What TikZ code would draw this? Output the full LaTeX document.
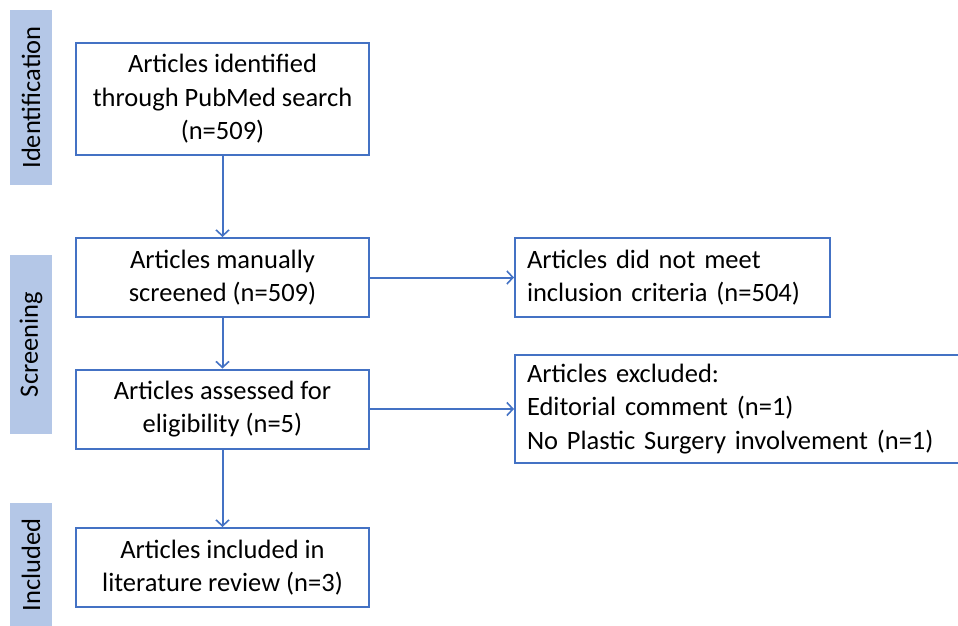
\documentclass[tikz,border=0pt]{standalone}
\usepackage{fontspec}
\setmainfont{Carlito}
\usetikzlibrary{arrows.meta}
\definecolor{boxblue}{HTML}{4472C4}
\definecolor{barblue}{HTML}{B4C7E7}
\begin{document}
\begin{tikzpicture}[x=1pt,y=-1pt,
  flowbox/.style={draw=boxblue,line width=2pt,fill=white,align=center,inner sep=0pt,
    font=\fontsize{26.5}{33.5}\selectfont},
  sidebox/.style={draw=boxblue,line width=2pt,fill=white,align=left,inner ysep=0pt,inner xsep=12pt,
    font=\fontsize{26.5}{33.5}\selectfont},
  phasebar/.style={fill=barblue,draw=none,inner sep=0pt},
  phasetext/.style={rotate=90,font=\fontsize{26.5}{30}\selectfont},
  flowarrow/.style={draw=boxblue,line width=2pt,-{Straight Barb[length=6pt,width=13pt,line width=1.6pt]}}]
\useasboundingbox (0,0) rectangle (958,626);
\clip (0,0) rectangle (958,626);
\fill[white] (0,0) rectangle (958,626);
% phase bars
\node[phasebar,minimum width=42pt,minimum height=175pt] (idbar) at (31,97.5) {};
\node[phasetext] (idtext) at (idbar.center) {Identification};
\node[phasebar,minimum width=42pt,minimum height=179pt] (scbar) at (31,344.5) {};
\node[phasetext] (sctext) at (scbar.center) {Screening};
\node[phasebar,minimum width=42pt,minimum height=140pt] (inbar) at (31,573) {};
\node[phasetext] (intext) at (31,565) {Included};
% main boxes
\node[flowbox,minimum width=293pt,minimum height=112pt] (b1) at (222.5,99)
  {Articles identified\\through PubMed search\\(n=509)};
\node[flowbox,minimum width=293pt,minimum height=79pt] (b2) at (222.5,277.5)
  {Articles manually\\screened (n=509)};
\node[flowbox,minimum width=293pt,minimum height=79pt] (b3) at (222.5,409)
  {Articles assessed for\\eligibility (n=5)};
\node[flowbox,minimum width=293pt,minimum height=79pt] (b6) at (222.5,567.5)
  {Articles included in\\literature review (n=3)};
% side boxes
\node[sidebox,minimum width=315pt,minimum height=79pt,text width=291pt] (b4) at (672.5,277.5)
  {Articles did not meet\\inclusion criteria (n=504)};
\node[sidebox,minimum width=449pt,minimum height=108pt,text width=425pt] (b5) at (739.5,409)
  {Articles excluded:\\Editorial comment (n=1)\\No Plastic Surgery involvement (n=1)};
% arrows
\draw[flowarrow] (b1.south) -- (b2.north);
\draw[flowarrow] (b2.south) -- (b3.north);
\draw[flowarrow] (b3.south) -- (b6.north);
\draw[flowarrow] (b2.east) -- (b4.west);
\draw[flowarrow] (b3.east) -- (b5.west);
\end{tikzpicture}
\end{document}
